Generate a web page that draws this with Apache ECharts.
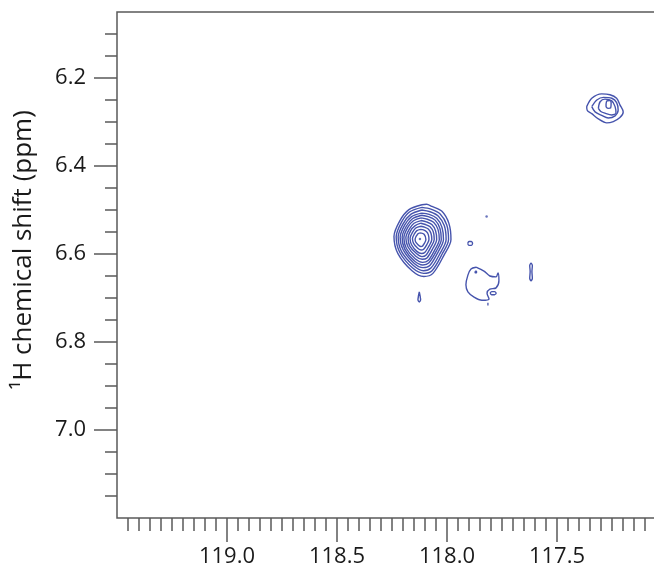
<!DOCTYPE html>
<html>
<head>
<meta charset="utf-8">
<title>1H-15N contour</title>
<script src="https://cdn.jsdelivr.net/npm/echarts@6.0.0/dist/echarts.min.js"></script>
<style>
  html, body { margin: 0; padding: 0; background: #fff; overflow: hidden; }
  #chart { width: 668px; height: 573px; }
</style>
</head>
<body>
<div id="chart"></div>
<script>
(function () {
  var ink = '#1a1a1a';
  var frame = '#5a5a5a';
  var contour = '#4654ad';

  // axis ranges (ppm), both axes run reversed
  var n15Range = [117.0, 119.5];
  var h1Range = [6.05, 7.2];
  var n15Labels = [117.5, 118.0, 118.5, 119.0];
  var h1Labels = [6.2, 6.4, 6.6, 6.8, 7.0];

  // strong peak near 118.12 / 6.57, contour levels from inside out
  var peakMain = [
    [[118.121, 6.552], [118.104, 6.555], [118.096, 6.567], [118.111, 6.582], [118.119, 6.583], [118.142, 6.573], [118.145, 6.566], [118.132, 6.554]],
    [[118.120, 6.544], [118.107, 6.545], [118.094, 6.549], [118.085, 6.556], [118.082, 6.567], [118.091, 6.578], [118.106, 6.589], [118.117, 6.591], [118.133, 6.587], [118.152, 6.576], [118.157, 6.565], [118.149, 6.555], [118.137, 6.547]],
    [[118.119, 6.537], [118.102, 6.539], [118.085, 6.543], [118.073, 6.553], [118.069, 6.567], [118.081, 6.581], [118.100, 6.596], [118.116, 6.599], [118.137, 6.594], [118.161, 6.579], [118.168, 6.564], [118.157, 6.551], [118.142, 6.541]],
    [[118.119, 6.530], [118.098, 6.533], [118.077, 6.538], [118.062, 6.550], [118.058, 6.567], [118.073, 6.584], [118.096, 6.603], [118.114, 6.606], [118.139, 6.599], [118.169, 6.582], [118.177, 6.564], [118.165, 6.547], [118.146, 6.536]],
    [[118.118, 6.524], [118.093, 6.527], [118.069, 6.533], [118.052, 6.547], [118.047, 6.567], [118.064, 6.587], [118.091, 6.609], [118.113, 6.612], [118.142, 6.605], [118.177, 6.584], [118.187, 6.563], [118.172, 6.544], [118.150, 6.530]],
    [[118.117, 6.518], [118.089, 6.521], [118.061, 6.528], [118.041, 6.544], [118.035, 6.567], [118.055, 6.590], [118.086, 6.615], [118.111, 6.619], [118.145, 6.611], [118.185, 6.587], [118.196, 6.563], [118.179, 6.540], [118.154, 6.525]],
    [[118.116, 6.512], [118.085, 6.515], [118.054, 6.523], [118.032, 6.542], [118.026, 6.567], [118.047, 6.592], [118.082, 6.620], [118.110, 6.625], [118.148, 6.616], [118.192, 6.589], [118.204, 6.562], [118.185, 6.537], [118.157, 6.520]],
    [[118.116, 6.507], [118.081, 6.510], [118.047, 6.519], [118.023, 6.539], [118.016, 6.567], [118.040, 6.595], [118.078, 6.626], [118.109, 6.631], [118.150, 6.621], [118.199, 6.591], [118.213, 6.562], [118.192, 6.534], [118.161, 6.515]],
    [[118.115, 6.500], [118.077, 6.504], [118.039, 6.514], [118.012, 6.536], [118.004, 6.567], [118.031, 6.598], [118.073, 6.632], [118.107, 6.638], [118.153, 6.626], [118.207, 6.594], [118.222, 6.561], [118.199, 6.531], [118.165, 6.510]],
    [[118.114, 6.494], [118.073, 6.498], [118.031, 6.509], [118.001, 6.534], [117.993, 6.567], [118.022, 6.600], [118.068, 6.638], [118.106, 6.644], [118.156, 6.632], [118.215, 6.596], [118.231, 6.561], [118.206, 6.527], [118.169, 6.504]],
    [[118.114, 6.488], [118.093, 6.487], [118.068, 6.492], [118.023, 6.503], [117.991, 6.531], [117.982, 6.567], [118.014, 6.603], [118.064, 6.644], [118.105, 6.651], [118.159, 6.638], [118.223, 6.599], [118.241, 6.560], [118.214, 6.524], [118.173, 6.499]]
  ];

  // weaker peak near 117.27 / 6.26
  var peakUpper = [
    [[117.277, 6.259], [117.273, 6.252], [117.259, 6.251], [117.254, 6.257], [117.256, 6.268], [117.268, 6.269], [117.277, 6.265]],
    [[117.312, 6.269], [117.304, 6.254], [117.282, 6.248], [117.251, 6.252], [117.236, 6.265], [117.232, 6.280], [117.251, 6.284], [117.282, 6.280], [117.301, 6.276]],
    [[117.342, 6.265], [117.319, 6.250], [117.289, 6.244], [117.251, 6.246], [117.229, 6.256], [117.222, 6.273], [117.236, 6.286], [117.267, 6.291], [117.297, 6.285], [117.327, 6.277]],
    [[117.365, 6.265], [117.342, 6.246], [117.297, 6.236], [117.259, 6.238], [117.229, 6.246], [117.214, 6.261], [117.199, 6.277], [117.214, 6.290], [117.244, 6.299], [117.274, 6.302], [117.312, 6.293], [117.342, 6.281], [117.362, 6.274]]
  ];

  // weak features
  var weak = [
    // blob near 117.84 / 6.67
    [[117.868, 6.630], [117.832, 6.639], [117.805, 6.650], [117.777, 6.652], [117.768, 6.643], [117.764, 6.661], [117.777, 6.677], [117.805, 6.680], [117.818, 6.689], [117.809, 6.702], [117.841, 6.705], [117.877, 6.698], [117.905, 6.686], [117.914, 6.670], [117.905, 6.648], [117.891, 6.634]],
    [[117.804, 6.689], [117.797, 6.6855], [117.784, 6.6855], [117.777, 6.689], [117.784, 6.6925], [117.797, 6.6925]],
    [[117.872, 6.639], [117.866, 6.639], [117.866, 6.643], [117.872, 6.643]],
    // drop under the strong peak
    [[118.126, 6.686], [118.122, 6.696], [118.120, 6.704], [118.126, 6.709], [118.132, 6.704], [118.130, 6.696]],
    // small ring near 117.90 / 6.58
    [[117.906, 6.576], [117.900, 6.5715], [117.890, 6.5715], [117.884, 6.576], [117.890, 6.5805], [117.900, 6.5805]],
    // narrow vertical feature near 117.62
    [[117.618, 6.620], [117.612, 6.626], [117.614, 6.640], [117.612, 6.655], [117.618, 6.661], [117.624, 6.655], [117.622, 6.640], [117.624, 6.626]]
  ];
  var specks = [[118.123, 6.566], [117.820, 6.515]];
  var tick = [[117.814, 6.711], [117.814, 6.717]];

  function steps(lo, hi, step) {
    var out = [];
    for (var v = lo; v <= hi + 1e-9; v += step) out.push(Math.round(v * 100) / 100);
    return out;
  }
  var n15Minor = steps(117.05, 119.45, 0.05);
  var h1Minor = steps(6.10, 7.15, 0.05);

  var font = '"Open Sans", "Noto Sans", sans-serif';

  function xAxis(major) {
    return {
      type: 'value', position: 'bottom', inverse: true,
      min: n15Range[0], max: n15Range[1],
      axisLine: { show: false },
      splitLine: { show: false },
      axisTick: {
        show: true, customValues: major ? n15Labels : n15Minor,
        length: major ? 24 : 13, lineStyle: { color: frame, width: 1.5 }
      },
      axisLabel: major ? {
        show: true, customValues: n15Labels, margin: 28,
        color: ink, fontSize: 22, fontFamily: font,
        formatter: function (v) { return v.toFixed(1); }
      } : { show: false }
    };
  }
  function yAxis(major) {
    var ax = {
      type: 'value', position: 'left', inverse: true,
      min: h1Range[0], max: h1Range[1],
      axisLine: { show: false },
      splitLine: { show: false },
      axisTick: {
        show: true, customValues: major ? h1Labels : h1Minor,
        length: major ? 23 : 12, lineStyle: { color: frame, width: 1.5 }
      },
      axisLabel: major ? {
        show: true, customValues: h1Labels, margin: 31,
        color: ink, fontSize: 22, fontFamily: font,
        formatter: function (v) { return v.toFixed(1); }
      } : { show: false }
    };
    if (major) {
      ax.name = '¹H chemical shift (ppm)';
      ax.nameLocation = 'middle';
      ax.nameGap = 80;
      ax.nameTextStyle = { color: ink, fontSize: 26, fontFamily: font, padding: [0, 0, 0, 30] };
    }
    return ax;
  }

  var series = [];
  function addRings(list) {
    list.forEach(function (pts) {
      series.push({
        type: 'line', xAxisIndex: 0, yAxisIndex: 0,
        data: pts.concat([pts[0]]),
        symbol: 'none', smooth: 0.3, silent: true,
        lineStyle: { color: contour, width: 1.4 }
      });
    });
  }
  addRings(peakMain);
  addRings(peakUpper);
  addRings(weak);
  series.push({
    type: 'line', data: tick, symbol: 'none', silent: true,
    lineStyle: { color: contour, width: 1.3 }
  });
  series.push({
    type: 'scatter', data: specks, symbolSize: 2.5, silent: true,
    itemStyle: { color: contour }
  });

  // the plot frame runs past the right edge of the 654 px window
  var chart = echarts.init(document.getElementById('chart'), null, { renderer: 'canvas' });
  chart.setOption({
    animation: false,
    backgroundColor: '#fff',
    grid: {
      left: 117, right: 1, top: 12, bottom: 55,
      show: true, borderColor: frame, borderWidth: 1.5, backgroundColor: 'transparent'
    },
    xAxis: [xAxis(true), xAxis(false)],
    yAxis: [yAxis(true), yAxis(false)],
    series: series
  });
})();
</script>
</body>
</html>
